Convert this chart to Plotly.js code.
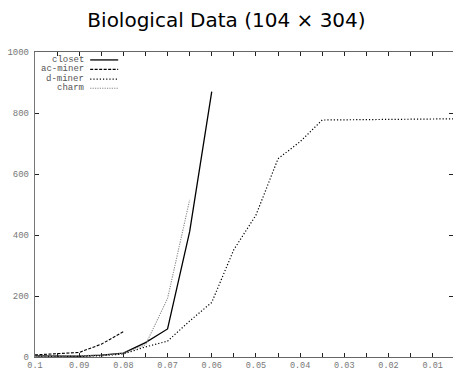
<!DOCTYPE html>
<html>
<head>
<meta charset="utf-8">
<script src="https://cdn.plot.ly/plotly-3.0.1.min.js"></script>
<style>html,body{margin:0;padding:0;background:#fff;}#chart{width:453px;height:371px;}</style>
</head>
<body>
<div id="chart"></div>
<script>
const supports = [0.1, 0.095, 0.09, 0.085, 0.08, 0.075, 0.07, 0.065, 0.06, 0.055, 0.05, 0.045, 0.04, 0.035, 0.03, 0.025, 0.02, 0.015, 0.01, 0.005];
const closet  = [4, 3, 3, 6, 13, 47, 92, 411, 870];
const acMiner = [7, 10, 15, 42, 83];
const dMiner  = [1, 1, 2, 4, 10, 33, 52, 118, 179, 352, 465, 650, 706, 777, 778, 779, 780, 780, 781, 781];
const charm   = [2, 3, 3, 6, 12, 40, 192, 515];
const seriesNames = ["closet", "ac-miner", "d-miner", "charm"];
const xTickVals = [0.1, 0.09, 0.08, 0.07, 0.06, 0.05, 0.04, 0.03, 0.02, 0.01];
const xTickText = ["0.1", "0.09", "0.08", "0.07", "0.06", "0.05", "0.04", "0.03", "0.02", "0.01"];
const yTickVals = [0, 200, 400, 600, 800, 1000];

const styles = [
  {color: "#000", width: 1.3, dash: "solid"},
  {color: "#000", width: 1.1, dash: "3px,1.5px"},
  {color: "#000", width: 1.2, dash: "1.2px,2px"},
  {color: "#888", width: 1.1, dash: "1.2px,1.2px"}
];
const seriesVals = [closet, acMiner, dMiner, charm];

const traces = seriesVals.map((v, i) => ({
  x: supports.slice(0, v.length),
  y: v,
  type: "scatter",
  mode: "lines",
  name: seriesNames[i],
  line: styles[i],
  showlegend: false,
  hoverinfo: "skip"
}));

const legY = [0.974, 0.943, 0.911, 0.881];
const annotations = seriesNames.map((n, i) => ({
  text: n, xref: "paper", yref: "paper", x: 0.121, y: legY[i],
  xanchor: "right", yanchor: "middle", showarrow: false,
  font: {family: "Liberation Mono, monospace", size: 9, color: "#555"}
}));
const shapes = seriesNames.map((n, i) => ({
  type: "line", xref: "paper", yref: "paper",
  x0: 0.132, x1: 0.199, y0: legY[i], y1: legY[i],
  line: {color: styles[i].color, width: styles[i].width, dash: styles[i].dash}
}));

const tickFont = {family: "Liberation Mono, monospace", size: 9, color: "#777"};

const layout = {
  width: 453, height: 371,
  margin: {l: 35, r: 0, t: 52, b: 14},
  paper_bgcolor: "#fff", plot_bgcolor: "#fff",
  title: {text: "Biological Data (104 × 304)", x: 0.5, xanchor: "center", y: 0.945, yanchor: "middle",
    font: {family: "DejaVu Sans, sans-serif", size: 20, color: "#000"}},
  xaxis: {
    range: [0.1, 0.0054], autorange: false,
    tickvals: xTickVals, ticktext: xTickText,
    ticks: "inside", ticklen: 4, tickcolor: "#222", tickwidth: 1,
    minor: {dtick: 0.005, tick0: 0, ticks: "inside", ticklen: 4, tickcolor: "#222", tickwidth: 1, showgrid: false},
    showline: true, linecolor: "#666", linewidth: 1.2, mirror: "ticks",
    showgrid: false, zeroline: false,
    tickfont: {family: "Liberation Mono, monospace", size: 8.5, color: "#777"}, ticklabelstandoff: 0
  },
  yaxis: {
    range: [0, 1000], autorange: false,
    tickvals: yTickVals,
    ticks: "inside", ticklen: 4, tickcolor: "#222", tickwidth: 1,
    showline: true, linecolor: "#777", linewidth: 1.2, mirror: "ticks",
    showgrid: false, zeroline: false,
    tickfont: tickFont, ticklabelstandoff: 3
  },
  annotations: annotations,
  shapes: shapes
};

Plotly.newPlot("chart", traces, layout, {displayModeBar: false, staticPlot: true});
</script>
</body>
</html>
